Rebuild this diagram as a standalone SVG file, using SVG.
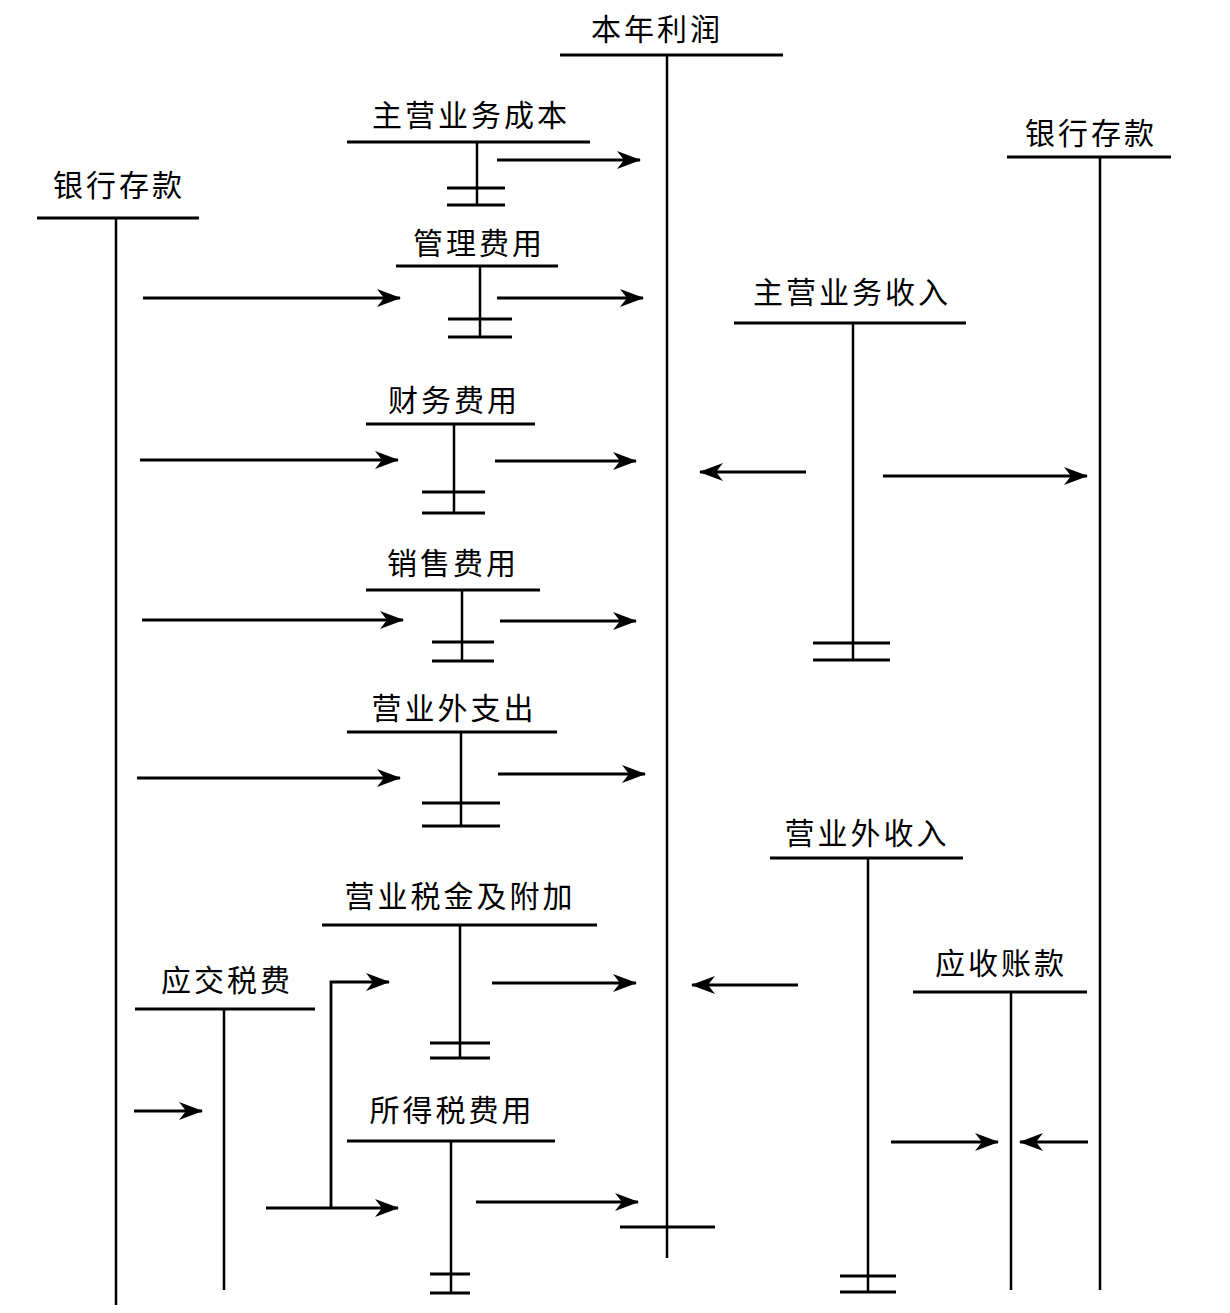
<svg xmlns="http://www.w3.org/2000/svg" width="1230" height="1313" viewBox="0 0 1230 1313">
<defs>
<marker id="ah" markerUnits="userSpaceOnUse" markerWidth="26" markerHeight="18" refX="23" refY="9" orient="auto">
<path d="M0,0 L24,9 L0,18 L7,9 z" fill="#000"/>
</marker>
<style>
text{font-family:"Noto Sans CJK SC","Liberation Sans",sans-serif;font-size:30px;fill:#000;text-anchor:middle;letter-spacing:3px}
.h{stroke:#000;stroke-width:3;fill:none}
.v{stroke:#000;stroke-width:2.5;fill:none}
.a{stroke:#000;stroke-width:2.8;fill:none;marker-end:url(#ah)}
</style>
</defs>
<rect width="1230" height="1313" fill="#fff"/>
<g id="bnlr">
<text x="657" y="40">本年利润</text>
<path class="h" d="M560,55H783M620,1227H715"/>
<path class="v" d="M667,55V1258"/>
</g>
<g id="zyywcb">
<text x="471" y="126">主营业务成本</text>
<path class="h" d="M347,142H590M447,188H505M447,205H505"/>
<path class="v" d="M477,142V205"/>
</g>
<g id="yhck-left">
<text x="119" y="196">银行存款</text>
<path class="h" d="M37,218H199"/>
<path class="v" d="M116,218V1305"/>
</g>
<g id="glfy">
<text x="479" y="254">管理费用</text>
<path class="h" d="M396,266H558M448,319H512M448,337H512"/>
<path class="v" d="M480,266V337"/>
</g>
<g id="yhck-right">
<text x="1091" y="144">银行存款</text>
<path class="h" d="M1007,157H1171"/>
<path class="v" d="M1100,157V1290"/>
</g>
<g id="zyywsr">
<text x="852" y="303">主营业务收入</text>
<path class="h" d="M734,323H966M813,643H890M813,660H890"/>
<path class="v" d="M853,323V660"/>
</g>
<g id="cwfy">
<text x="454" y="411">财务费用</text>
<path class="h" d="M366,424H535M422,492H485M422,513H485"/>
<path class="v" d="M454,424V513"/>
</g>
<g id="xsfy">
<text x="453" y="574">销售费用</text>
<path class="h" d="M366,590H540M432,642H494M432,661H494"/>
<path class="v" d="M462,590V661"/>
</g>
<g id="yywzc">
<text x="454" y="719">营业外支出</text>
<path class="h" d="M347,732H557M422,803H500M422,826H500"/>
<path class="v" d="M461,732V826"/>
</g>
<g id="yywsr">
<text x="867" y="844">营业外收入</text>
<path class="h" d="M770,858H963M840,1276H896M840,1292H896"/>
<path class="v" d="M868,858V1292"/>
</g>
<g id="yysjjfj">
<text x="460" y="907">营业税金及附加</text>
<path class="h" d="M322,925H597M430,1043H490M430,1058H490"/>
<path class="v" d="M460,925V1058"/>
</g>
<g id="yjsf">
<text x="227" y="991">应交税费</text>
<path class="h" d="M135,1009H315"/>
<path class="v" d="M224,1009V1290"/>
</g>
<g id="sdsfy">
<text x="452" y="1121">所得税费用</text>
<path class="h" d="M347,1141H555M430,1274H470M430,1293H470"/>
<path class="v" d="M451,1141V1293"/>
</g>
<g id="yszk">
<text x="1001" y="974">应收账款</text>
<path class="h" d="M913,992H1087"/>
<path class="v" d="M1011,992V1290"/>
</g>
<g id="connectors">
<path class="a" d="M497,160H640"/>
<path class="a" d="M143,298H400"/>
<path class="a" d="M497,298H643"/>
<path class="a" d="M806,472H700"/>
<path class="a" d="M883,476H1087"/>
<path class="a" d="M140,460H398"/>
<path class="a" d="M495,461H636"/>
<path class="a" d="M142,620H403"/>
<path class="a" d="M500,621H636"/>
<path class="a" d="M137,778H400"/>
<path class="a" d="M498,774H645"/>
<path class="a" d="M798,985H692"/>
<path class="a" d="M492,983H636"/>
<path class="a" d="M134,1111H202"/>
<path class="a" d="M266,1208H398"/>
<path class="a" d="M331,1208V982H389"/>
<path class="a" d="M476,1202H638"/>
<path class="a" d="M891,1142H998"/>
<path class="a" d="M1088,1142H1020"/>
</g>
</svg>
